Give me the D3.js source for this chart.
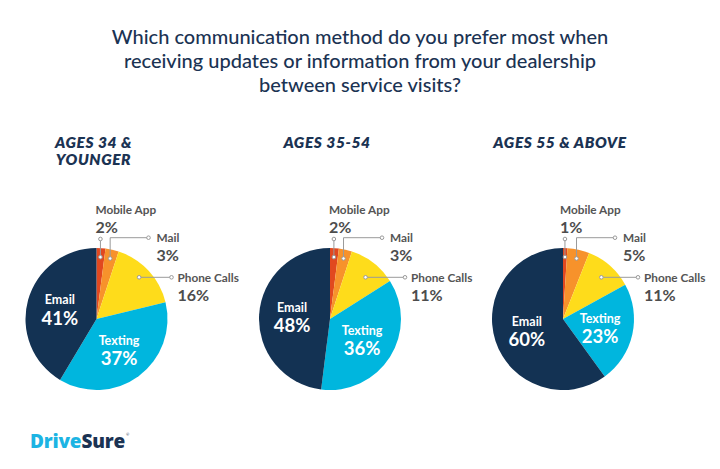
<!DOCTYPE html>
<html>
<head>
<meta charset="utf-8">
<script src="https://cdn.jsdelivr.net/npm/d3@7/dist/d3.min.js"></script>
<style>
  html, body { margin: 0; padding: 0; background: #fff; }
  svg { display: block; }
  text { font-family: "Lato", "Open Sans", sans-serif; }
</style>
</head>
<body>
<svg id="chart" width="720" height="469"></svg>
<script>
// ---- Data ----
const titleLines = [
  "Which communication method do you prefer most when",
  "receiving updates or information from your dealership",
  "between service visits?"
];
const categories = ["Mobile App", "Mail", "Phone Calls", "Texting", "Email"];
const groupTitles = [["AGES 34 &", "YOUNGER"], ["AGES 35-54"], ["AGES 55 & ABOVE"]];
const ages34Younger = [2, 3, 16, 37, 41];
const ages35to54 = [2, 3, 11, 36, 48];
const ages55Above = [1, 5, 11, 23, 60];
const seriesList = [ages34Younger, ages35to54, ages55Above];

// ---- Styles / layout ----
const colors = ["#E1481F", "#F7922B", "#FEDC1B", "#00B6DE", "#133253"];
const navy = "#1B3353";
const gray = "#555555";
const centersX = [96.5, 330, 563];
const cy = 319;
const R = 71;

const svg = d3.select("#chart");

// Title
svg.append("g").selectAll("text").data(titleLines).join("text")
  .attr("x", 360).attr("y", (d, i) => 44 + i * 24)
  .attr("text-anchor", "middle")
  .attr("fill", navy)
  .style("font-size", "20px")
  .style("font-weight", 500)
  .text(d => d);

const color = d3.scaleOrdinal().domain(categories).range(colors);
const pie = d3.pie().sort(null).value(d => d);
const arc = d3.arc().innerRadius(0).outerRadius(R);
const labelArc = d3.arc().innerRadius(38).outerRadius(38);
const dotArc = d3.arc().innerRadius(62).outerRadius(62);
const phoneArc = d3.arc().innerRadius(58).outerRadius(58);

seriesList.forEach((values, gi) => {
  const cx = centersX[gi];
  const g = svg.append("g").attr("transform", `translate(${cx},${cy})`);
  const arcs = pie(values);

  // group title
  svg.append("g").selectAll("text").data(groupTitles[gi]).join("text")
    .attr("x", cx - 3).attr("y", (d, i) => 147.5 + i * 17)
    .attr("text-anchor", "middle")
    .attr("fill", navy)
    .style("font-size", "15.5px").style("font-weight", 800).style("font-style", "italic")
    .style("letter-spacing", "0.6px")
    .text(d => d);

  g.selectAll("path").data(arcs).join("path")
    .attr("d", arc)
    .attr("fill", (d, i) => color(categories[i]));

  // inner labels (Texting, Email)
  [3, 4].forEach(i => {
    const [lx, ly] = labelArc.centroid(arcs[i]);
    g.append("text").attr("x", lx).attr("y", ly - 9 + 4.5)
      .attr("text-anchor", "middle").attr("fill", "#fff")
      .style("font-size", "12.5px").style("font-weight", 700)
      .text(categories[i]);
    g.append("text").attr("x", lx).attr("y", ly + 9 + 6.7)
      .attr("text-anchor", "middle").attr("fill", "#fff")
      .style("font-size", "18.5px").style("font-weight", 700)
      .text(values[i] + "%");
  });

  // leader lines
  const lineG = g.append("g").attr("fill", "none").attr("stroke", "#9a9a9a").attr("stroke-width", 1);
  const dots = [];
  // Mobile App
  const [mx, my] = dotArc.centroid(arcs[0]);
  const topY = 239 - cy;
  lineG.append("path").attr("d", `M${mx},${my}V${topY}`);
  dots.push([mx, my], [mx, topY]);
  // Mail
  const [ax, ay] = dotArc.centroid(arcs[1]);
  const mailY = 237.7 - cy, mailX = 52;
  lineG.append("path").attr("d", `M${ax},${ay}V${mailY}H${mailX}`);
  dots.push([ax, ay], [mailX, mailY]);
  // Phone Calls
  const [px] = phoneArc.centroid(arcs[2]);
  const phoneY = 277.3 - cy, phoneX = 75;
  lineG.append("path").attr("d", `M${px},${phoneY}H${phoneX}`);
  dots.push([px, phoneY], [phoneX, phoneY]);
  g.selectAll("circle").data(dots).join("circle")
    .attr("cx", d => d[0]).attr("cy", d => d[1]).attr("r", 1.8)
    .attr("fill", "#fff").attr("stroke", "#9a9a9a").attr("stroke-width", 1);

  // outside labels
  const outside = [
    { i: 0, x: mx - 5, y1: 214 - cy, y2: 232.5 - cy },
    { i: 1, x: mailX + 8, y1: 242 - cy, y2: 261 - cy },
    { i: 2, x: phoneX + 6, y1: 282 - cy, y2: 301 - cy }
  ];
  outside.forEach(o => {
    g.append("text").attr("x", o.x).attr("y", o.y1).attr("fill", gray)
      .style("font-size", "11.8px").style("font-weight", 700)
      .text(categories[o.i]);
    g.append("text").attr("x", o.x).attr("y", o.y2).attr("fill", "#4d4d4d")
      .style("font-size", "16px").style("font-weight", 700)
      .text(values[o.i] + "%");
  });
});

// Logo
const logo = svg.append("text").attr("x", 30).attr("y", 447.5)
  .style("font-family", "'Open Sans', sans-serif")
  .style("font-size", "19px").style("font-weight", 800).style("letter-spacing", "-0.2px");
logo.append("tspan").attr("fill", "#1CB4E3").text("Drive");
logo.append("tspan").attr("fill", navy).text("Sure");
const logoEnd = logo.node().getComputedTextLength();
svg.append("text").attr("x", 30 + logoEnd + 1).attr("y", 436).attr("fill", navy)
  .style("font-size", "4px").text("®");
</script>
</body>
</html>
